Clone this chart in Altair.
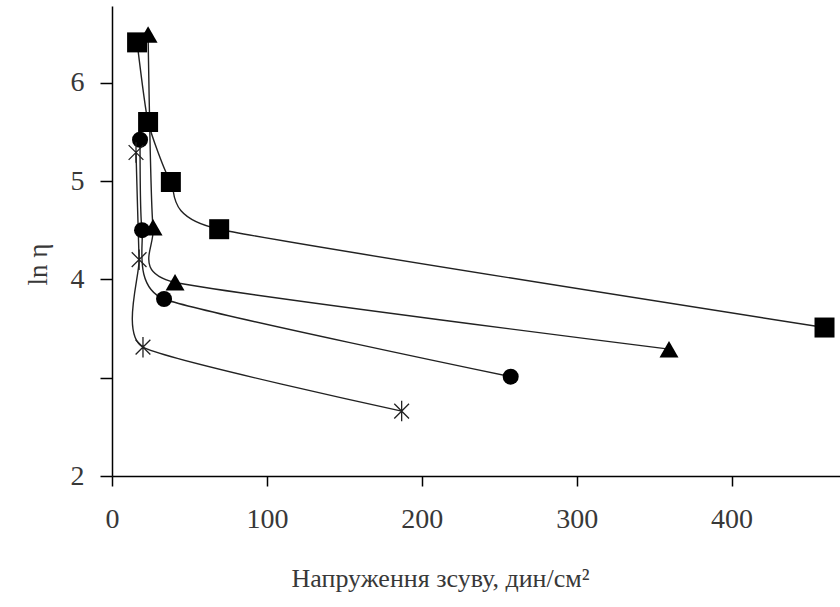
import altair as alt
import pandas as pd

# Shear stress (dyn/cm^2) and ln(viscosity) for each sample series
square_x = [16.2, 23.3, 38.0, 69.2, 460.0]
square_y = [6.41, 5.60, 4.99, 4.51, 3.51]

triangle_x = [23.3, 26.5, 40.7, 359.6]
triangle_y = [6.49, 4.53, 3.97, 3.29]

circle_x = [18.1, 19.4, 33.6, 257.4]
circle_y = [5.42, 4.50, 3.80, 3.01]

star_x = [15.5, 17.5, 20.0, 187.0]
star_y = [5.29, 4.20, 3.31, 2.66]

x_ticks = [0, 100, 200, 300, 400]
y_ticks = [2, 3, 4, 5, 6]

ASTERISK = "M0,-1L0,1M-0.72,-0.72L0.72,0.72M-0.72,0.72L0.72,-0.72"


def frame(name, xs, ys):
    return pd.DataFrame({"series": name, "x": xs, "y": ys, "i": range(len(xs))})


df = pd.concat([
    frame("square", square_x, square_y),
    frame("triangle", triangle_x, triangle_y),
    frame("circle", circle_x, circle_y),
    frame("star", star_x, star_y),
])

FONT = "'Liberation Serif', 'Times New Roman', serif"
TXT = "#383838"

x_enc = alt.X(
    "x:Q",
    scale=alt.Scale(domain=[0, 470], nice=False, zero=True),
    axis=alt.Axis(
        values=x_ticks, title="Напруження зсуву, дин/см²", grid=False,
        tickSize=10, labelPadding=19, titlePadding=32, titleX=328,
        labelFlush=False, labelFontSize=28, titleFontSize=26,
    ),
)
y_enc = alt.Y(
    "y:Q",
    scale=alt.Scale(domain=[2, 6.78], nice=False, zero=False),
    axis=alt.Axis(
        values=y_ticks, title="ln η", grid=False,
        tickSize=12, labelPadding=16, titlePadding=18, titleY=258,
        labelExpr="datum.value == 3 ? '' : datum.label",
        labelFlush=False, labelFontSize=28, titleFontSize=27,
    ),
)

base = alt.Chart(df).encode(x=x_enc, y=y_enc)

lines = base.mark_line(
    interpolate="cardinal", tension=0.5, color="#222222", strokeWidth=1.4
).encode(detail="series:N", order="i:Q")

squares = base.transform_filter(alt.datum.series == "square").mark_point(
    shape="square", size=400, filled=True, color="black", opacity=1
)
triangles = base.transform_filter(alt.datum.series == "triangle").mark_point(
    shape="triangle-up", size=360, filled=True, color="black", opacity=1
)
circles = base.transform_filter(alt.datum.series == "circle").mark_point(
    shape="circle", size=256, filled=True, color="black", opacity=1
)
stars = base.transform_filter(alt.datum.series == "star").mark_point(
    shape=ASTERISK, size=420, filled=False, color="#222222",
    strokeWidth=1.3, opacity=1
)

chart = (
    alt.layer(lines, squares, triangles, circles, stars)
    .properties(
        width=728, height=470,
        autosize=alt.AutoSizeParams(type="none"),
        padding={"left": 112, "top": 6, "right": 0, "bottom": 131},
        background="white",
    )
    .configure_view(stroke=None)
    .configure_axis(
        domainColor="black", domainWidth=1.5, tickColor="black", tickWidth=1.5,
        labelFont=FONT, titleFont=FONT, labelColor=TXT, titleColor=TXT,
        titleFontWeight="normal",
    )
)

chart.save("out.html", embed_options={"renderer": "svg", "actions": False})
